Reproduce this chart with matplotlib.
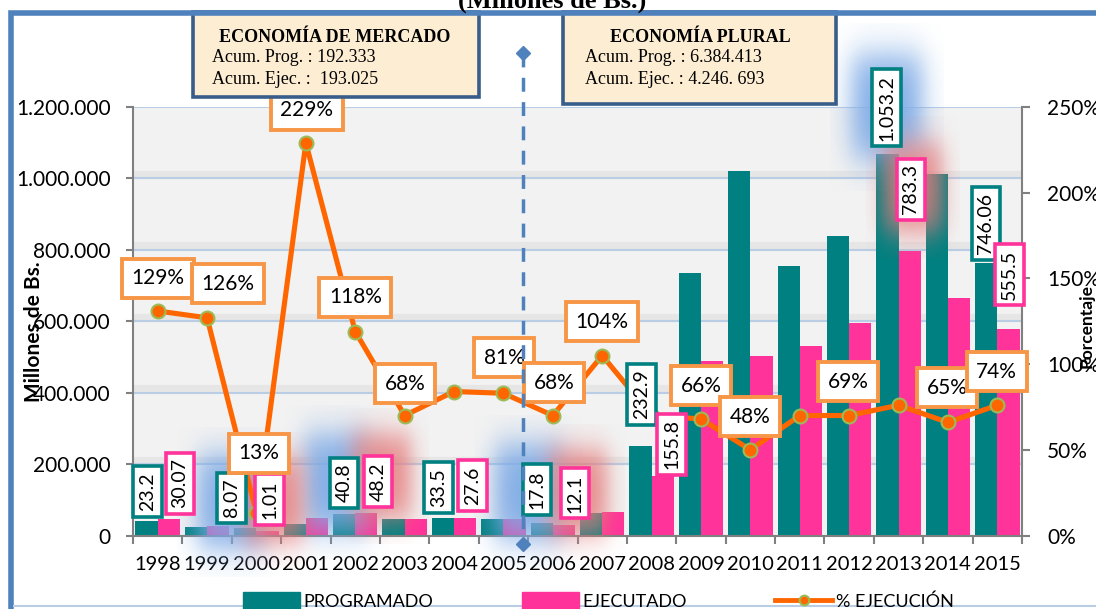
import numpy as np
import matplotlib
matplotlib.use('Agg')
import matplotlib.pyplot as plt
from matplotlib.patches import Rectangle, Patch
from matplotlib.lines import Line2D
from matplotlib.colors import to_rgb
from matplotlib.ticker import FuncFormatter

plt.rcParams['font.family'] = ['Lato', 'DejaVu Sans']

# ── datos ───────────────────────────────────────────────────────────────
years = [str(y) for y in range(1998, 2016)]
programado = [40000, 25000, 20000, 31000, 59000, 45000, 50000, 47000, 36000,
              64000, 250000, 736000, 1020000, 756000, 840000, 1067000, 1011000, 764000]
ejecutado = [47000, 26000, 12000, 50000, 64000, 45000, 50000, 47000, 30000,
             65000, 168000, 490000, 502000, 530000, 594000, 798000, 666000, 577000]
pct_ejec = [131, 127, 13, 229, 119, 70, 84, 83, 70, 105, 70, 68, 50, 70, 70, 76, 66, 76]

pct_text = ['129%', '126%', '13%', '229%', '118%', '68%', '81%', '68%', '104%',
            '66%', '48%', '69%', '65%', '74%']
prog_text = ['23.2', '8.07', '40.8', '33.5', '17.8', '232.9', '1.053.2', '746.06']
ejec_text = ['30.07', '1.01', '48.2', '27.6', '12.1', '155.8', '783.3', '555.5']

# ── posiciones de etiquetas (layout) ────────────────────────────────────
pct_pos = [(0.0, 1.50), (1.42, 1.47), (2.05, 0.48), (3.02, 2.48), (4.0, 1.39),
           (5.01, 0.886), (7.01, 1.037), (8.02, 0.892), (9.0, 1.247),
           (11.0, 0.874), (11.99, 0.693), (13.98, 0.897), (15.98, 0.862), (16.99, 0.956)]
prog_pos = [(-0.2, 123000), (1.5, 106000), (3.77, 148000), (5.69, 134000),
            (7.68, 129000), (9.8, 395000), (14.76, 1198000), (16.77, 874000)]
ejec_pos = [(0.45, 146000), (2.27, 101000), (4.46, 151000), (6.38, 140000),
            (8.45, 118000), (10.41, 255000), (15.25, 969000), (17.25, 731000)]
blue_glow = [(1.5, 95000, 2.2, 420000), (3.6, 150000, 2.1, 430000),
             (7.5, 120000, 2.2, 430000), (14.76, 1200000, 2.3, 470000)]
red_glow = [(2.35, 100000, 1.9, 380000), (4.55, 165000, 1.9, 380000),
            (8.5, 120000, 1.9, 380000), (15.3, 975000, 1.9, 400000)]

TEAL = '#008080'
PINK = '#FF3399'
ORANGE = '#FF6600'
LBL_ORANGE = '#F79646'
GRID = '#B9CDE5'
BLUE = '#4F81BD'


def glow(ax, xc, yc, w, h, color, alpha):
    g = np.linspace(-1, 1, 100)
    s = 1 / (1 + np.exp((np.abs(g) - 0.62) / 0.13))
    a = np.outer(s, s)
    rgba = np.zeros((100, 100, 4))
    rgba[..., :3] = to_rgb(color)
    rgba[..., 3] = alpha * a
    im = ax.imshow(rgba, extent=(xc - w / 2, xc + w / 2, yc - h / 2, yc + h / 2),
                   aspect='auto', zorder=3, interpolation='bilinear')
    im.set_clip_on(False)


fig = plt.figure(figsize=(10.96, 6.09), dpi=100)
ax = fig.add_axes([133 / 1096, 73.5 / 609, 889 / 1096, 428.5 / 609])
ax2 = ax.twinx()

x = np.arange(len(years))
bw = 0.45
ax.set_facecolor('#F2F2F2')
ax.bar(x - bw / 2, programado, bw, color=TEAL, zorder=2)
ax.bar(x + bw / 2, ejecutado, bw, color=PINK, zorder=2)

# grid + sombras
for v in range(200000, 1200001, 200000):
    ax.axhline(v + 10000, color='#808080', lw=6, alpha=0.10, zorder=1)
    ax.axhline(v, color=GRID, lw=1.5, zorder=1.5)

for (xc, yc, w, h) in blue_glow:
    glow(ax, xc, yc, w, h, '#7DAAE6', 0.95)
for (xc, yc, w, h) in red_glow:
    glow(ax, xc, yc, w, h, '#E57B7B', 0.85)

ax.set_xlim(-0.5, len(years) - 0.5)
ax.set_ylim(0, 1200000)
ax.set_yticks(range(0, 1200001, 200000))
ax.yaxis.set_major_formatter(FuncFormatter(lambda v, p: f'{int(v):,}'.replace(',', '.')))
ax.set_xticks(x)
ax.set_xticklabels(years)
ax.set_xticks(np.arange(-0.5, len(years)), minor=True)
ax.tick_params(axis='x', which='major', length=0, pad=15, labelsize=14.5)
ax.tick_params(axis='x', which='minor', length=6, width=1.5, color='#808080')
ax.tick_params(axis='y', length=5, width=1.5, color='#808080', pad=11, labelsize=15)
for s in ['top', 'right']:
    ax.spines[s].set_visible(False)
for s in ['left', 'bottom']:
    ax.spines[s].set_color('#808080')
    ax.spines[s].set_linewidth(1.5)
ax.set_ylabel('Millones de Bs.', fontsize=15, fontweight='bold')
ax.yaxis.set_label_coords(-0.100, 0.475)

# línea % ejecución
ax2.plot(x, np.array(pct_ejec) / 100, color=ORANGE, lw=3.7, marker='o', ms=10,
         mfc=ORANGE, mec='#9BBB59', mew=1.5, zorder=3)
ax2.set_ylim(0, 2.5)
ax2.set_yticks(np.arange(0, 2.51, 0.5))
ax2.yaxis.set_major_formatter(FuncFormatter(lambda v, p: f'{v * 100:.0f}%'))
ax2.tick_params(axis='y', length=6, width=1.5, color='#808080', pad=12, labelsize=15)
for s in ['top', 'left', 'bottom']:
    ax2.spines[s].set_visible(False)
ax2.spines['right'].set_color('#808080')
ax2.spines['right'].set_linewidth(1.5)
ax2.set_ylabel('Porcentaje', fontsize=12.5, fontweight='bold', rotation=90,
               va='center', ha='center')
ax2.yaxis.set_label_coords(1.0725, 0.49)

# etiquetas de barras
for txt, (px, py) in zip(prog_text, prog_pos):
    ax2.text(px, py, txt, transform=ax.transData, rotation=90, ha='center', va='center',
             fontsize=14, zorder=5,
             bbox=dict(boxstyle='square,pad=0.3', fc='white', ec=TEAL, lw=2.6))
for txt, (px, py) in zip(ejec_text, ejec_pos):
    ax2.text(px, py, txt, transform=ax.transData, rotation=90, ha='center', va='center',
             fontsize=14, zorder=5,
             bbox=dict(boxstyle='square,pad=0.3', fc='white', ec=PINK, lw=2.6))

# etiquetas de porcentaje
for txt, (px, py) in zip(pct_text, pct_pos):
    ax2.text(px, py, txt, ha='center', va='center', fontsize=15, zorder=6,
             bbox=dict(boxstyle='square,pad=0.45', fc='white', ec=LBL_ORANGE, lw=2.8))

# línea divisoria
ax2.plot([7.4, 7.4], [1.126, -0.021], transform=ax2.get_xaxis_transform(),
         color=BLUE, lw=2.5, ls=(0, (4, 3)), clip_on=False, zorder=7)
ax2.plot([7.4, 7.4], [1.126, -0.021], transform=ax2.get_xaxis_transform(),
         ls='none', marker='D', ms=7, color=BLUE, clip_on=False, zorder=7)

# recuadros superiores
for (x0, y0, w, h) in [(193, 12, 286, 85), (563, 12, 273, 92)]:
    fig.add_artist(Rectangle((x0 / 1096, 1 - (y0 + h) / 609), w / 1096, h / 609,
                             transform=fig.transFigure, fc='#FCEDD3', ec='#385D8A', lw=2.6))
serif = ['Liberation Serif', 'DejaVu Serif']
fig.text(335 / 1096, 1 - 37 / 609, 'ECONOMÍA DE MERCADO', ha='center', va='center',
         family=serif, fontweight='bold', fontsize=13)
fig.text(212 / 1096, 1 - 58 / 609, 'Acum. Prog. : 192.333', ha='left', va='center',
         family=serif, fontsize=13)
fig.text(212 / 1096, 1 - 80 / 609, 'Acum. Ejec. :  193.025', ha='left', va='center',
         family=serif, fontsize=13)
fig.text(700 / 1096, 1 - 37 / 609, 'ECONOMÍA PLURAL', ha='center', va='center',
         family=serif, fontweight='bold', fontsize=13)
fig.text(585 / 1096, 1 - 58 / 609, 'Acum. Prog. : 6.384.413', ha='left', va='center',
         family=serif, fontsize=13)
fig.text(585 / 1096, 1 - 80 / 609, 'Acum. Ejec. : 4.246. 693', ha='left', va='center',
         family=serif, fontsize=13)

# título cortado y marco
fig.text(552 / 1096, 1 - 8 / 609, '(Millones de Bs.)', ha='center', va='baseline',
         family=serif, fontweight='bold', fontsize=19)
fig.add_artist(Rectangle((11 / 1096, -0.1), 1.2, 1.1 - 13 / 609,
                         transform=fig.transFigure, fill=False, ec=BLUE, lw=4))
fig.add_artist(Line2D([14 / 1096, 1], [3 / 609, 3 / 609], transform=fig.transFigure,
                      color=GRID, lw=1.5))

# leyenda
handles = [Patch(color=TEAL, label='PROGRAMADO'),
           Patch(color=PINK, label='EJECUTADO'),
           Line2D([], [], color=ORANGE, lw=3.5, marker='o', ms=7, mfc=ORANGE,
                  mec='#9BBB59', mew=1.5, label='% EJECUCIÓN')]
fig.legend(handles=handles, loc='center left', bbox_to_anchor=(243 / 1096, 1 - 601 / 609),
           ncol=3, frameon=False, fontsize=13, handlelength=3.15, handleheight=1.0,
           handletextpad=0.2, columnspacing=4.9, borderpad=0, borderaxespad=0)

fig.savefig('out.png', dpi=100)
